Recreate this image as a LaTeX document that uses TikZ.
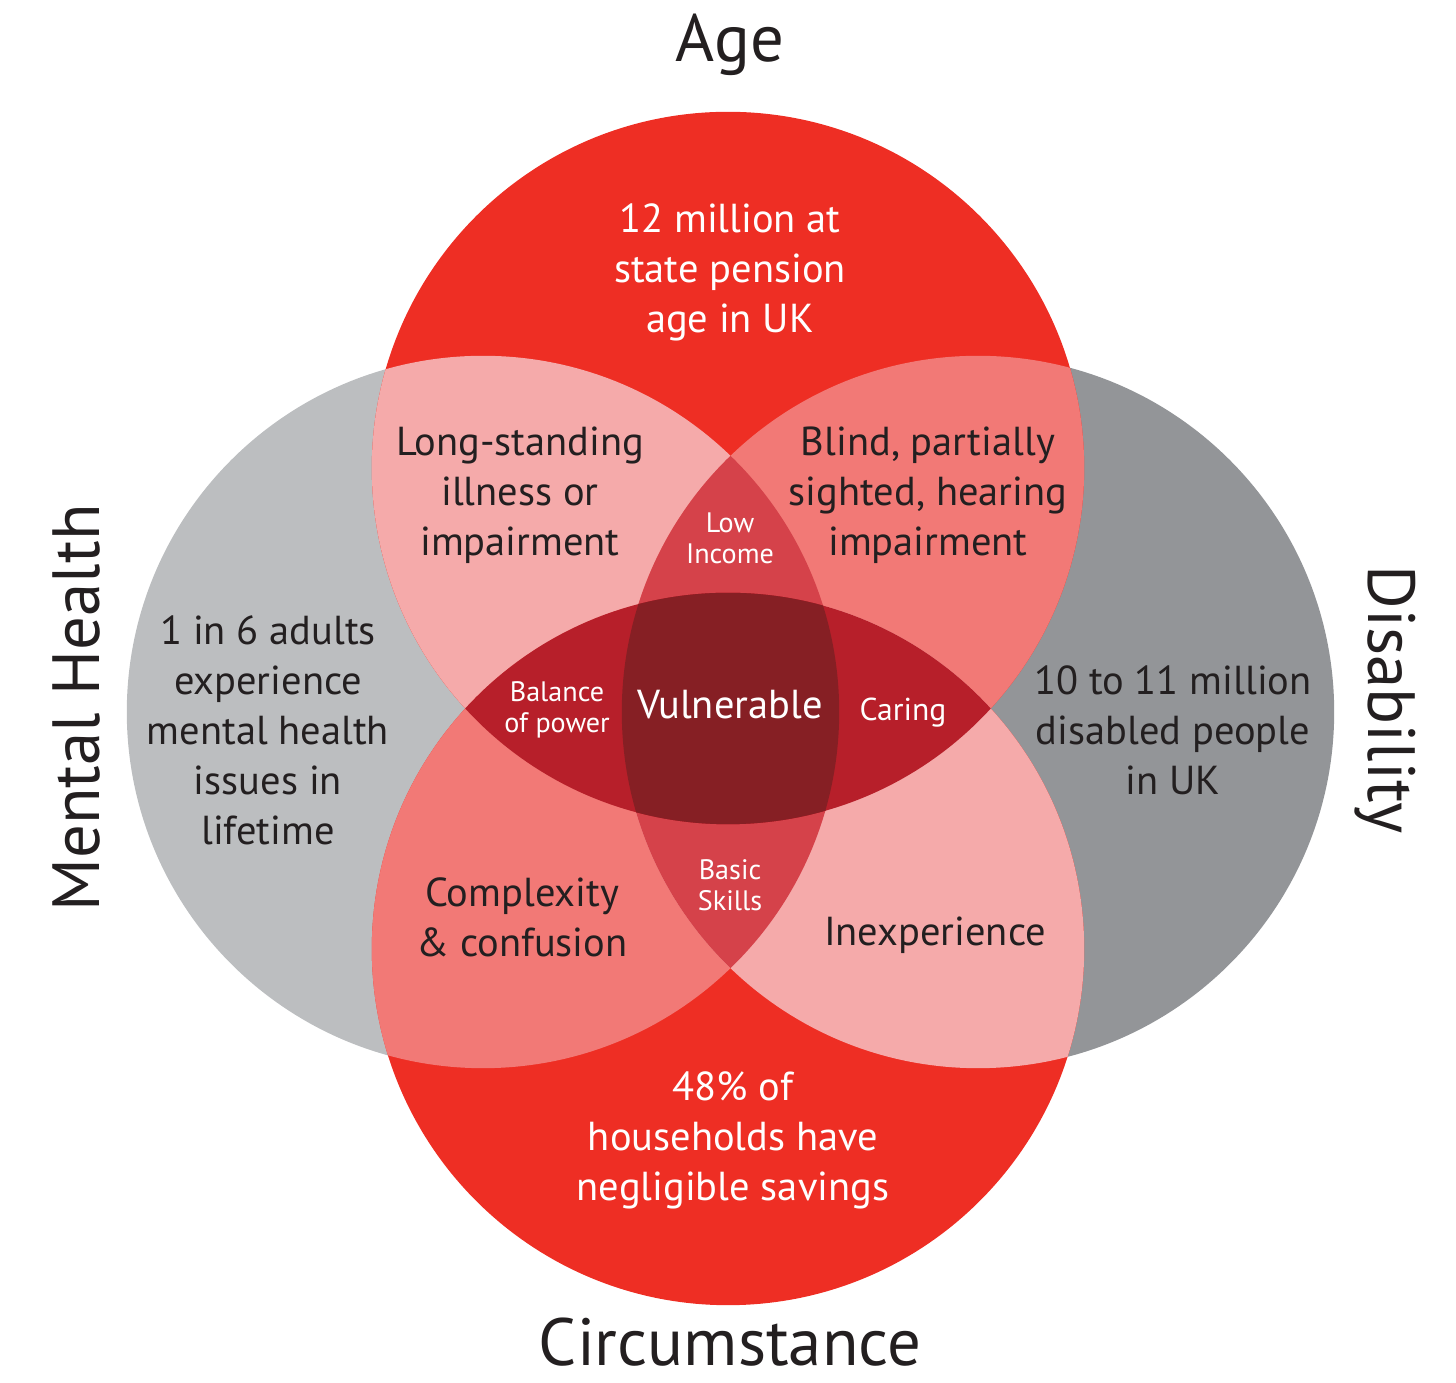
\documentclass[tikz,border=0pt]{standalone}
\usepackage{fontspec}
\setmainfont{PT Sans}
\setsansfont{PT Sans}
\usepackage{xcolor}
\usetikzlibrary{positioning}
\definecolor{venred}{HTML}{EE2E24}
\definecolor{mentalgray}{HTML}{BCBEC0}
\definecolor{disgray}{HTML}{939598}
\definecolor{lightpink}{HTML}{F5AAAA}
\definecolor{salmon}{HTML}{F27976}
\definecolor{midred}{HTML}{D5424A}
\definecolor{deepred}{HTML}{B71F2A}
\definecolor{corered}{HTML}{861F24}
\definecolor{inkgray}{HTML}{231F20}

\begin{document}
\begin{tikzpicture}[x=0.01cm, y=-0.01cm, font=\sffamily]
    \tikzstyle{txt}=[align=center, text=inkgray, inner sep=0pt, font=\sffamily\fontsize{11.5}{14.2}\selectfont]
    \tikzstyle{wtxt}=[txt, text=white]
    \tikzstyle{small}=[align=center, text=white, inner sep=0pt, font=\sffamily\fontsize{8}{8.8}\selectfont]
    \tikzstyle{title}=[text=inkgray, inner sep=0pt, font=\sffamily\fontsize{19}{22}\selectfont]
    \def\rad{3.56cm}

    \useasboundingbox (0,0) rectangle (1456,1383);

    \coordinate (age) at (728,468);
    \coordinate (circ) at (728,949);
    \coordinate (mental) at (483,712);
    \coordinate (dis) at (978,712);

    % single circles
    \fill[mentalgray] (mental) circle[radius=\rad];
    \fill[disgray] (dis) circle[radius=\rad];
    \fill[venred] (age) circle[radius=\rad];
    \fill[venred] (circ) circle[radius=\rad];

    % pairs
    \begin{scope}
        \clip (age) circle[radius=\rad];
        \fill[lightpink] (mental) circle[radius=\rad];
        \fill[salmon] (dis) circle[radius=\rad];
    \end{scope}
    \begin{scope}
        \clip (circ) circle[radius=\rad];
        \fill[salmon] (mental) circle[radius=\rad];
        \fill[lightpink] (dis) circle[radius=\rad];
    \end{scope}

    % triples
    \foreach \c in {age, circ}{
        \begin{scope}
            \clip (\c) circle[radius=\rad];
            \clip (mental) circle[radius=\rad];
            \fill[midred] (dis) circle[radius=\rad];
        \end{scope}
    }
    \foreach \c in {mental, dis}{
        \begin{scope}
            \clip (age) circle[radius=\rad];
            \clip (circ) circle[radius=\rad];
            \fill[deepred] (\c) circle[radius=\rad];
        \end{scope}
    }

    % all four
    \begin{scope}
        \clip (age) circle[radius=\rad];
        \clip (circ) circle[radius=\rad];
        \clip (mental) circle[radius=\rad];
        \fill[corered] (dis) circle[radius=\rad];
    \end{scope}

    % titles
    \node[title] (agetitle) at (730,45) {Age};
    \node[title] (circtitle) at (730,1342) {Circumstance};
    \node[title, rotate=90] (mentaltitle) at (77,708) {Mental Health};
    \node[title, rotate=-90] (distitle) at (1385,700) {Disability};

    % region texts
    \node[wtxt] (pension) at (730,272) {12 million at\\state pension\\age in UK};
    \node[txt] (illness) at (520,495) {Long-standing\\illness or\\impairment};
    \node[txt] (blind) at (928,495) {Blind, partially\\sighted, hearing\\impairment};
    \node[small] (income) at (730,538) {Low\\Income};
    \node[txt] (adults) at (268,730) {1 in 6 adults\\experience\\mental health\\issues in\\lifetime};
    \node[small] (power) at (557,710) {Balance\\of power};
    \node[wtxt] (vuln) at (730,705) {Vulnerable};
    \node[small, font=\sffamily\fontsize{9}{10}\selectfont] (caring) at (903,713) {Caring};
    \node[txt] (disabled) at (1173,730) {10 to 11 million\\disabled people\\in UK};
    \node[small] (skills) at (730,885) {Basic\\Skills};
    \node[txt] (complex) at (522,917) {Complexity\\\& confusion};
    \node[txt] (inexp) at (935,935) {Inexperience};
    \node[wtxt] (savings) at (733,1140) {48\% of\\households have\\negligible savings};
\end{tikzpicture}
\end{document}
